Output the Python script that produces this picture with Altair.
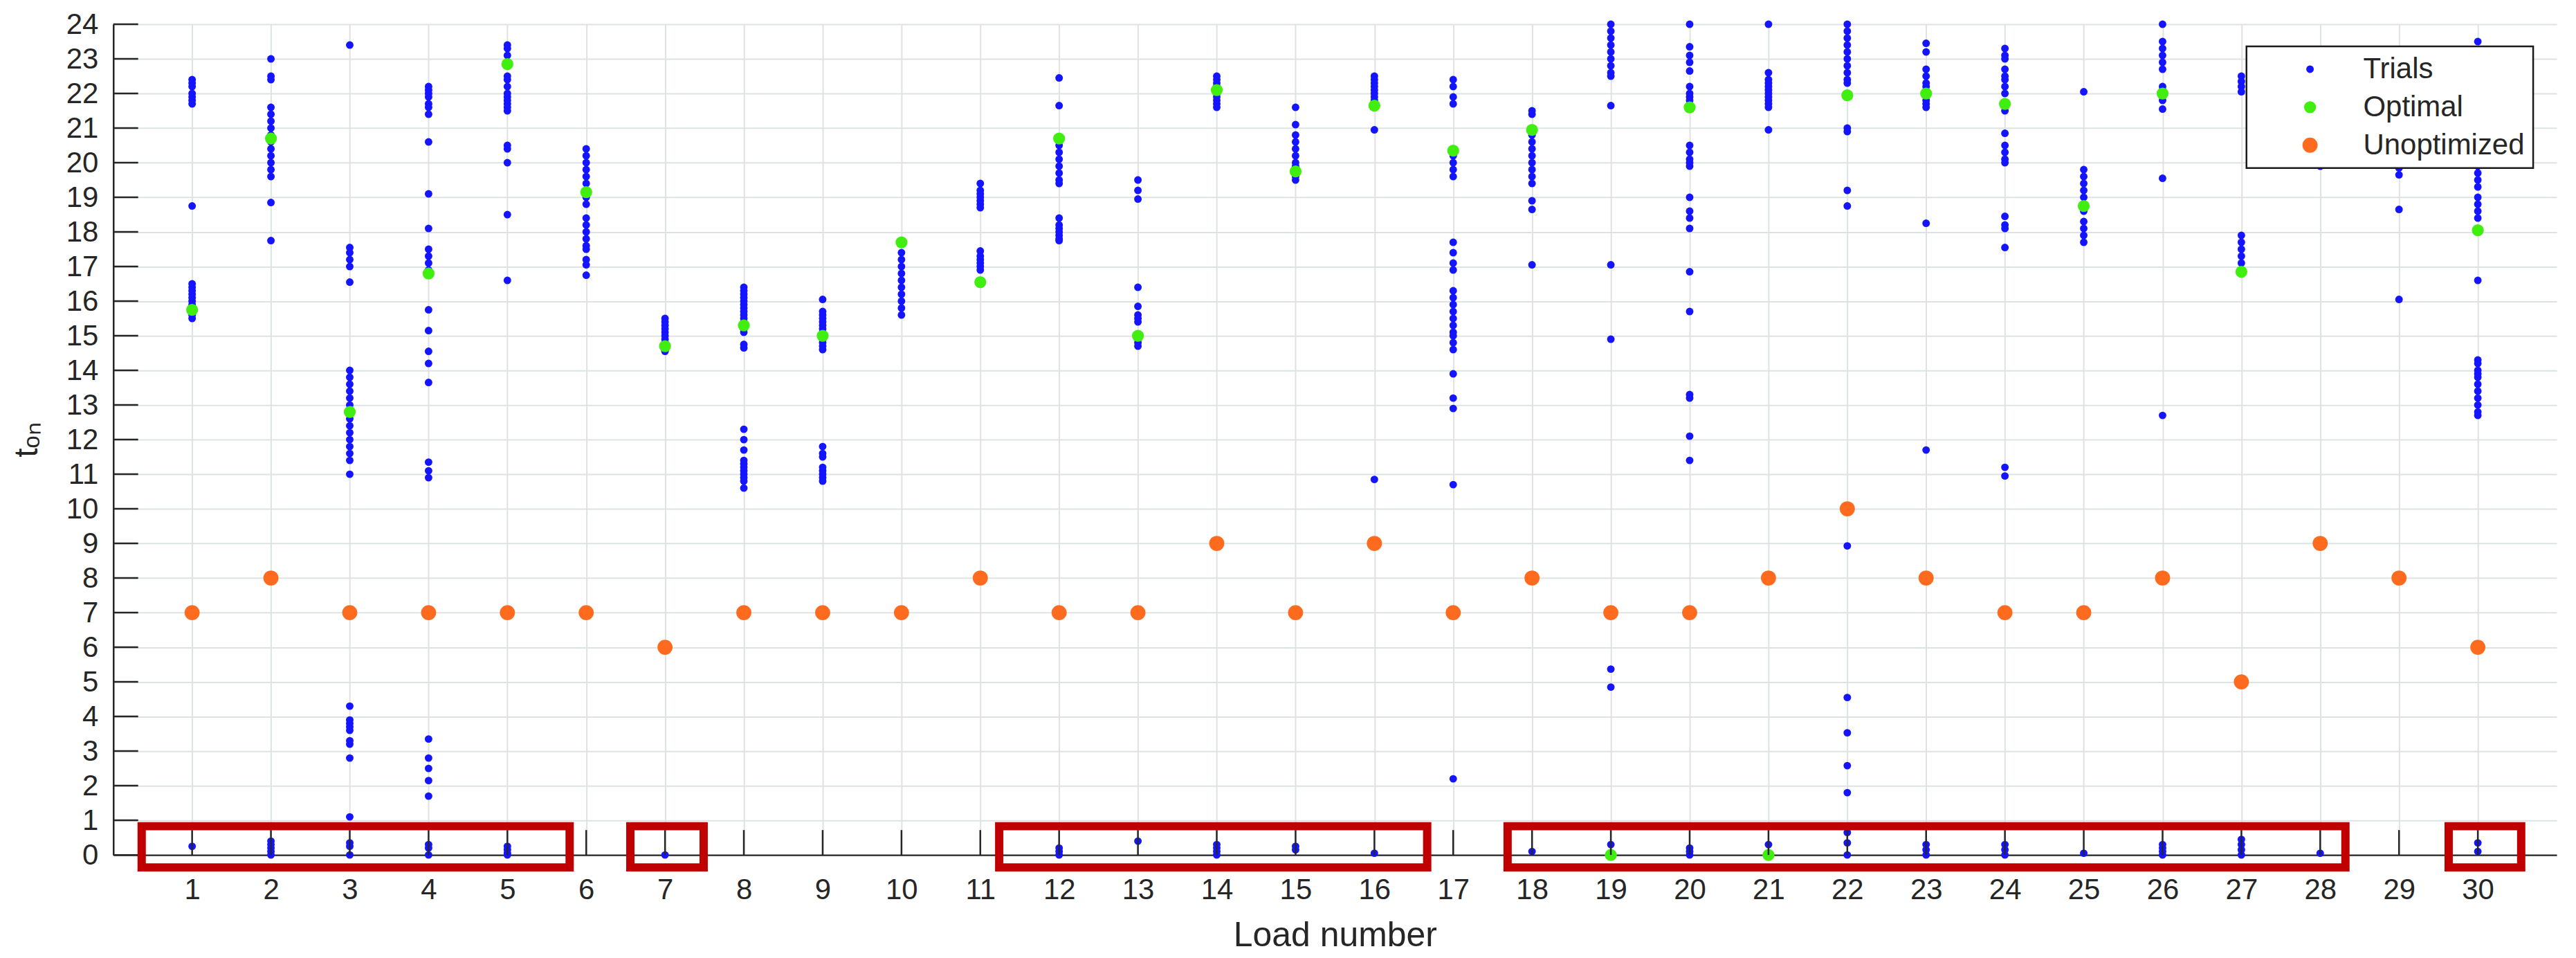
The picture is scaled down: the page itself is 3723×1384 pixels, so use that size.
import altair as alt
import pandas as pd

# ---------------- data ----------------
loads = list(range(1, 31))

trials = [
    [22.4, 22.3, 22.2, 22.0, 21.9, 21.8, 21.7, 18.75, 16.5, 16.4, 16.3, 16.2, 16.1, 16.0, 15.9, 15.8, 15.6, 15.5, 0.25],
    [23.0, 22.5, 22.4, 21.6, 21.4, 21.2, 21.0, 20.8, 20.6, 20.4, 20.2, 20.0, 19.8, 19.6, 18.85, 17.75, 0.4, 0.3, 0.2, 0.1, 0.0],
    [23.4, 17.55, 17.4, 17.2, 17.0, 16.55, 14.0, 13.8, 13.6, 13.4, 13.2, 13.0, 12.6, 12.4, 12.2, 12.0, 11.8, 11.6, 11.4, 11.0,
     4.3, 3.9, 3.8, 3.7, 3.6, 3.3, 3.2, 2.8, 1.1, 0.35, 0.25, 0.0],
    [22.2, 22.1, 22.0, 21.9, 21.7, 21.6, 21.4, 20.6, 19.1, 18.1, 17.5, 17.3, 17.1, 16.9, 15.75, 15.15, 14.55, 14.2, 13.65,
     11.35, 11.1, 10.9, 3.35, 2.8, 2.5, 2.15, 1.7, 0.3, 0.2, 0.0],
    [23.4, 23.3, 23.1, 22.5, 22.4, 22.2, 22.0, 21.9, 21.8, 21.7, 21.6, 21.5, 20.5, 20.4, 20.0, 18.5, 16.6, 0.25, 0.15, 0.05, 0.0],
    [20.4, 20.2, 20.0, 19.8, 19.6, 19.4, 19.2, 19.0, 18.8, 18.4, 18.2, 18.0, 17.8, 17.6, 17.5, 17.2, 17.05, 16.75],
    [15.5, 15.4, 15.3, 15.2, 15.1, 15.0, 14.9, 14.8, 14.7, 14.55, 0.0],
    [16.4, 16.3, 16.2, 16.1, 16.0, 15.9, 15.8, 15.7, 15.6, 15.5, 15.4, 15.2, 15.1, 14.75, 14.65, 12.3, 12.0, 11.7, 11.4,
     11.3, 11.2, 11.1, 11.0, 10.9, 10.8, 10.6],
    [16.05, 15.7, 15.6, 15.5, 15.4, 15.3, 15.2, 15.1, 14.9, 14.8, 14.7, 14.6, 11.8, 11.6, 11.5, 11.2, 11.1, 11.0, 10.9, 10.8],
    [17.4, 17.2, 17.0, 16.8, 16.6, 16.4, 16.2, 16.0, 15.8, 15.6],
    [19.4, 19.2, 19.1, 19.0, 18.9, 18.8, 18.7, 17.45, 17.3, 17.2, 17.1, 17.0, 16.9],
    [22.45, 21.65, 20.5, 20.3, 20.1, 19.9, 19.7, 19.5, 19.4, 18.4, 18.2, 18.1, 18.0, 17.9, 17.8, 17.75, 0.2, 0.1, 0.0],
    [19.5, 19.2, 18.95, 16.4, 15.85, 15.6, 15.5, 15.4, 14.9, 14.8, 14.7, 0.4],
    [22.5, 22.4, 22.3, 22.2, 22.0, 21.9, 21.8, 21.7, 21.6, 0.3, 0.2, 0.1, 0.0],
    [21.6, 21.1, 20.8, 20.6, 20.4, 20.2, 20.0, 19.9, 19.6, 19.5, 0.25, 0.15],
    [22.5, 22.4, 22.3, 22.2, 22.1, 22.0, 21.9, 21.8, 20.95, 10.85, 0.05],
    [22.4, 22.2, 21.9, 21.7, 20.2, 20.0, 19.8, 19.6, 17.7, 17.4, 17.1, 16.9, 16.3, 16.1, 15.9, 15.7, 15.5, 15.3, 15.1,
     15.0, 14.8, 14.6, 13.9, 13.2, 12.9, 10.7, 2.2],
    [21.5, 21.4, 20.8, 20.6, 20.4, 20.2, 20.0, 19.8, 19.6, 19.4, 18.9, 18.65, 17.05, 0.1],
    [24.0, 23.8, 23.6, 23.4, 23.2, 23.0, 22.8, 22.6, 22.5, 21.65, 17.05, 14.9, 5.37, 4.85, 0.3],
    [24.0, 23.35, 23.1, 22.9, 22.65, 22.2, 22.0, 21.9, 21.8, 20.5, 20.3, 20.1, 20.0, 19.9, 19.0, 18.6, 18.4, 18.1, 16.85,
     15.7, 13.3, 13.2, 12.1, 11.4, 0.2, 0.1, 0.0],
    [24.0, 22.6, 22.4, 22.3, 22.2, 22.1, 22.0, 21.9, 21.8, 21.7, 21.6, 20.95, 0.3],
    [24.0, 23.8, 23.6, 23.4, 23.2, 23.0, 22.8, 22.6, 22.4, 22.3, 21.0, 20.9, 19.2, 18.75, 8.93, 4.55, 3.53, 2.58, 1.8,
     0.65, 0.35, 0.0],
    [23.45, 23.2, 22.7, 22.5, 22.3, 22.2, 21.8, 21.7, 21.6, 18.25, 11.7, 0.3, 0.15, 0.0],
    [23.3, 23.1, 23.0, 22.7, 22.5, 22.4, 22.2, 22.0, 21.5, 20.85, 20.5, 20.3, 20.1, 20.0, 18.45, 18.2, 18.1, 17.55,
     11.2, 10.95, 0.3, 0.15, 0.0],
    [22.05, 19.8, 19.6, 19.4, 19.2, 19.0, 18.6, 18.3, 18.1, 17.9, 17.7, 0.05],
    [24.0, 23.5, 23.3, 23.1, 22.9, 22.7, 22.2, 22.1, 21.8, 21.55, 19.55, 12.7, 0.3, 0.2, 0.1, 0.0],
    [22.5, 22.35, 22.2, 22.05, 17.9, 17.7, 17.5, 17.3, 17.1, 0.45, 0.3, 0.15, 0.0],
    [22.6, 22.2, 21.8, 21.4, 21.0, 20.5, 19.9, 0.05],
    [21.8, 21.0, 20.3, 19.85, 19.65, 18.65, 16.05],
    [23.5, 22.6, 21.5, 20.6, 19.9, 19.7, 19.5, 19.3, 19.0, 18.8, 18.6, 18.4, 16.6, 14.3, 14.2, 14.0, 13.9, 13.8, 13.6,
     13.4, 13.2, 13.0, 12.8, 12.7, 0.35, 0.1],
]

optimal = [15.75, 20.7, 12.8, 16.8, 22.85, 19.15, 14.7, 15.3, 15.0, 17.7,
           16.55, 20.7, 15.0, 22.1, 19.75, 21.65, 20.35, 20.95, 0.0, 21.6,
           0.0, 21.95, 22.0, 21.7, 18.75, 22.0, 16.85, 21.2, 20.8, 18.05]

unoptimized = [7, 8, 7, 7, 7, 7, 6, 7, 7, 7,
               8, 7, 7, 9, 7, 9, 7, 8, 7, 7,
               8, 10, 8, 7, 7, 8, 5, 9, 8, 6]

series_names = ["Trials", "Optimal", "Unoptimized"]
series_colors = ["#1414ff", "#40ee10", "#ff6b1e"]
series_sizes = [120, 480, 480]

x_ticks = list(range(1, 31))
y_ticks = list(range(0, 25))

# highlight boxes (in data units)
box_start = [0.36, 6.56, 11.24, 17.69, 29.63]
box_end = [5.79, 7.49, 16.67, 28.32, 30.55]
box_low = [-0.36] * 5
box_high = [0.83] * 5

# ---------------- tables ----------------
rows = []
for load, vals in zip(loads, trials):
    for v in vals:
        rows.append({"load": load, "t_on": v, "series": "Trials"})
for load, v in zip(loads, optimal):
    rows.append({"load": load, "t_on": v, "series": "Optimal"})
for load, v in zip(loads, unoptimized):
    rows.append({"load": load, "t_on": v, "series": "Unoptimized"})
df = pd.DataFrame(rows)

box_df = pd.DataFrame({"load": box_start, "load_end": box_end, "t_on": box_low, "t_on_end": box_high})
xtick_df = pd.DataFrame({"load": x_ticks})
ytick_df = pd.DataFrame({"t_on": y_ticks})

W, H = 3537, 1202
FONT = "Liberation Sans"
TXT = "#262626"
TICK_LEN = 36
XT = "Load number"
YT = "tₒₙ"

leg = alt.Legend(
    title=None, orient="none", legendX=3088, legendY=32,
    fillColor="white",
    labelFont=FONT, labelFontSize=42, labelColor=TXT, labelLimit=600,
    symbolOffset=59, labelOffset=56,
    symbolType="circle", symbolStrokeWidth=0, symbolOpacity=1,
)

xscale = alt.Scale(domain=[0, 31], nice=False, zero=False)
yscale = alt.Scale(domain=[0, 24], nice=False, zero=False)

points = alt.Chart(df).mark_circle(opacity=1).encode(
    x=alt.X("load:Q", title=XT, scale=xscale,
            axis=alt.Axis(values=x_ticks, format="d", grid=True,
                          gridColor="#dde3e3", gridWidth=2, ticks=False,
                          domainColor=TXT, domainWidth=2.5,
                          labelFont=FONT, labelFontSize=42, labelColor=TXT,
                          labelPadding=30,
                          titleFont=FONT, titleFontSize=50, titleFontWeight="normal",
                          titleColor=TXT, titleY=132, titleBaseline="alphabetic")),
    y=alt.Y("t_on:Q", title=YT, scale=yscale,
            axis=alt.Axis(values=y_ticks, format="d", grid=True,
                          gridColor="#dde3e3", gridWidth=2, ticks=False,
                          domainColor=TXT, domainWidth=2.5,
                          labelFont=FONT, labelFontSize=42, labelColor=TXT,
                          labelPadding=22,
                          titleFont=FONT, titleFontSize=48, titleFontWeight="normal",
                          titleColor=TXT, titleX=-110, titleBaseline="alphabetic")),
    color=alt.Color("series:N", scale=alt.Scale(domain=series_names, range=series_colors), legend=leg),
    size=alt.Size("series:N", scale=alt.Scale(domain=series_names, range=series_sizes), legend=leg),
)

xtick_layer = alt.Chart(xtick_df).mark_rule(color=TXT, strokeWidth=2.5).encode(
    x=alt.X("load:Q", title=XT),
    y=alt.value(H), y2=alt.value(H - TICK_LEN),
)

ytick_layer = alt.Chart(ytick_df).mark_rule(color=TXT, strokeWidth=2.5).encode(
    y=alt.Y("t_on:Q", title=YT),
    x=alt.value(0), x2=alt.value(TICK_LEN),
)

boxes = alt.Chart(box_df).mark_rect(
    fillOpacity=0, stroke="#c00000", strokeWidth=12).encode(
    x=alt.X("load:Q", title=XT), x2="load_end:Q",
    y=alt.Y("t_on:Q", title=YT), y2="t_on_end:Q",
)

chart = alt.layer(points, xtick_layer, ytick_layer, boxes).properties(
    width=W, height=H,
    autosize=alt.AutoSizeParams(type="none"),
    padding={"left": 156, "top": 26, "right": 20, "bottom": 145},
    background="white",
).configure_view(
    strokeWidth=0
).configure_legend(
    padding=12, strokeColor="#1a1a1a", strokeWidth=2.5, rowPadding=13,
)

chart.save("out.html", embed_options={"renderer": "svg", "actions": False})
